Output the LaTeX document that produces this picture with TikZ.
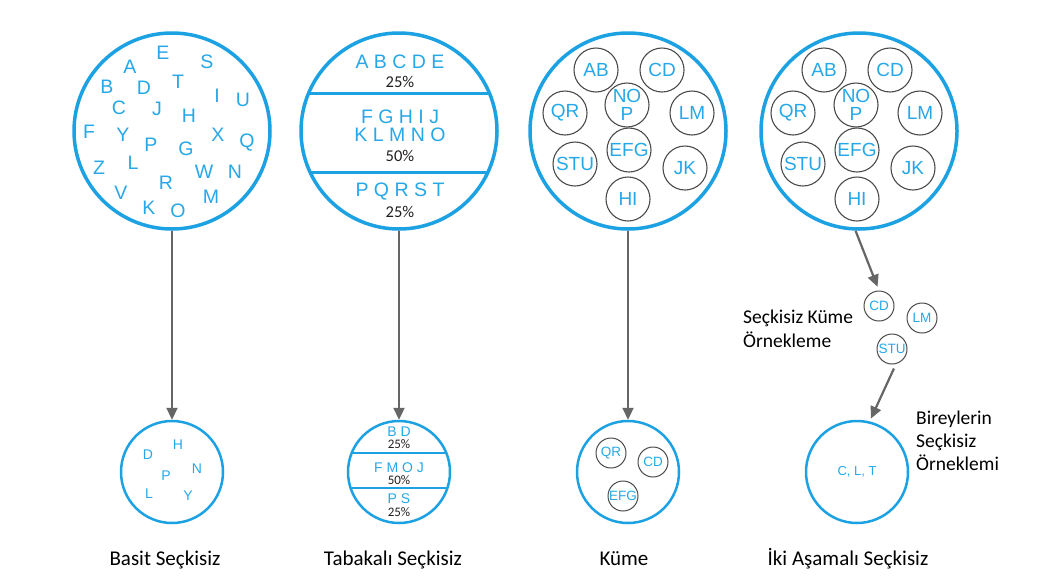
\documentclass[tikz,border=0pt]{standalone}
\usepackage{fontspec}
\setmainfont{Carlito}
\newfontfamily\arialf{Liberation Sans}
\usetikzlibrary{arrows.meta}
\definecolor{cblue}{RGB}{28,161,226}
\definecolor{tblue}{RGB}{38,168,232}
\definecolor{agray}{RGB}{102,102,102}
\definecolor{cgray}{RGB}{75,75,75}
\definecolor{pdark}{RGB}{35,31,32}
\begin{document}
\begin{tikzpicture}[x=1pt,y=-1pt,
  bigc/.style={circle,draw=cblue,line width=3.5pt,minimum size=196pt,inner sep=0pt},
  smallc/.style={circle,draw=cblue,line width=2.5pt,minimum size=102pt,inner sep=0pt,text=tblue,font=\arialf\fontsize{13}{13}\selectfont},
  clu/.style={circle,draw=cgray,line width=1.1pt,minimum size=44pt,inner sep=0pt,text=tblue,font=\arialf\fontsize{19}{18}\selectfont,align=center},
  clus/.style={circle,draw=cgray,line width=1pt,minimum size=30pt,inner sep=0pt,text=tblue,font=\arialf\fontsize{13.5}{13.5}\selectfont},
  let/.style={inner sep=0pt,text=tblue,font=\arialf\fontsize{19.5}{19.5}\selectfont},
  lets/.style={inner sep=0pt,text=tblue,font=\arialf\fontsize{14}{14}\selectfont},
  pct/.style={inner sep=0pt,text=pdark,font=\fontsize{16.5}{16.5}\selectfont},
  pcts/.style={inner sep=0pt,text=pdark,font=\fontsize{13}{13}\selectfont},
  strat/.style={draw=cblue,line width=3pt},
  strats/.style={draw=cblue,line width=2.5pt},
  arr/.style={draw=agray,line width=2.2pt,-{Triangle[length=12pt,width=11pt]}},
  lbl/.style={inner sep=0pt,anchor=base,font=\fontsize{21}{25}\selectfont},
  side/.style={inner sep=0pt,anchor=base west,font=\fontsize{19.5}{24}\selectfont}
]
\useasboundingbox[fill=white] (0,0) rectangle (1046,587);

% ---------- Column 1: simple random ----------
\node[bigc] (c1) at (172,131) {};
\foreach \t/\x/\y [count=\i] in {E/163/53,A/130/67,S/207/62,B/107/87,D/144/88,T/178/82,I/217/96,U/243/100,C/119/108,J/157/109,H/189/116,F/89/132,Y/123/135,X/218/135,Q/247/143,P/151/145,G/186/149,L/133/163,Z/99/168,W/204/172,N/235/172,R/166/183,V/121/193,M/211/197,K/149/208,O/178/211}
  \node[let] (l1\i) at (\x,\y) {\t};
\node[smallc] (b1) at (172,472) {};
\foreach \t/\x/\y [count=\i] in {D/148/455,H/178/445,N/197/469,P/166/476,L/149/494,Y/188/496}
  \node[lets] (m1\i) at (\x,\y) {\t};
\draw[arr] (c1.south) -- (b1.north);
\node[lbl] (t1) at (165,565) {Basit Seçkisiz};

% ---------- Column 2: stratified ----------
\begin{scope}
  \clip (399,131) circle[radius=97];
  \draw[strat] (290,93) -- (510,93);
  \draw[strat] (290,172) -- (510,172);
\end{scope}
\node[bigc] (c2) at (399,131) {};
\node[let] (s21) at (400,62) {A B C D E};
\node[pct] (p21) at (400,82) {25\%};
\node[let] (s22) at (400,117) {F G H I J};
\node[let] (s23) at (400,135) {K L M N O};
\node[pct] (p22) at (400,156) {50\%};
\node[let] (s24) at (400,192) {P Q R S T};
\node[pct] (p23) at (400,212) {25\%};
\begin{scope}
  \clip (399,472) circle[radius=50];
  \draw[strats] (340,453) -- (460,453);
  \draw[strats] (340,488) -- (460,488);
\end{scope}
\node[smallc] (b2) at (399,472) {};
\node[lets] (q21) at (399,432) {B D};
\node[pcts] (r21) at (399,444) {25\%};
\node[lets] (q22) at (399,468) {F M O J};
\node[pcts] (r22) at (399,480) {50\%};
\node[lets] (q23) at (399,499) {P S};
\node[pcts] (r23) at (399,512) {25\%};
\draw[arr] (c2.south) -- (b2.north);
\node[lbl] (t2) at (393,565) {Tabakalı Seçkisiz};

% ---------- Column 3: cluster ----------
\node[bigc] (c3) at (628,131) {};
\node[clu] (k3ab) at (596,70) {AB};
\node[clu] (k3cd) at (662,70) {CD};
\node[clu] (k3nop) at (627,105) {NO\\P};
\node[clu] (k3qr) at (565,113) {QR};
\node[clu] (k3lm) at (692,113) {LM};
\node[clu] (k3efg) at (629,150) {EFG};
\node[clu] (k3stu) at (575,164) {STU};
\node[clu] (k3jk) at (685,168) {JK};
\node[clu] (k3hi) at (628,199) {HI};
\node[smallc] (b3) at (628,472) {};
\node[clus] (n3qr) at (611,453) {QR};
\node[clus] (n3cd) at (653,462) {CD};
\node[clus] (n3efg) at (623,496) {EFG};
\draw[arr] (c3.south) -- (b3.north);
\node[lbl] (t3) at (624,565) {Küme};

% ---------- Column 4: two-stage ----------
\node[bigc] (c4) at (859,131) {};
\node[clu] (k4ab) at (824,70) {AB};
\node[clu] (k4cd) at (890,70) {CD};
\node[clu] (k4nop) at (856,105) {NO\\P};
\node[clu] (k4qr) at (793,113) {QR};
\node[clu] (k4lm) at (920,113) {LM};
\node[clu] (k4efg) at (857,150) {EFG};
\node[clu] (k4stu) at (803,164) {STU};
\node[clu] (k4jk) at (913,168) {JK};
\node[clu] (k4hi) at (857,199) {HI};
\node[clus] (s4cd) at (879,306) {CD};
\node[clus] (s4lm) at (922,318) {LM};
\node[clus] (s4stu) at (892,349) {STU};
\node[smallc] (b4) at (857,472) {C, L, T};
\draw[arr,shorten >=4pt] (c4.-92) -- (s4cd.north);
\draw[arr,shorten <=5pt,shorten >=3pt] (s4stu.-75) -- (b4.76);
\node[side] (a1) at (743,323) {Seçkisiz Küme};
\node[side] (a2) at (743,347) {Örnekleme};
\node[side] (d1) at (916,424) {Bireylerin};
\node[side] (d2) at (916,447) {Seçkisiz};
\node[side] (d3) at (916,470) {Örneklemi};
\node[lbl] (t4) at (848,565) {İki Aşamalı Seçkisiz};
\end{tikzpicture}
\end{document}
